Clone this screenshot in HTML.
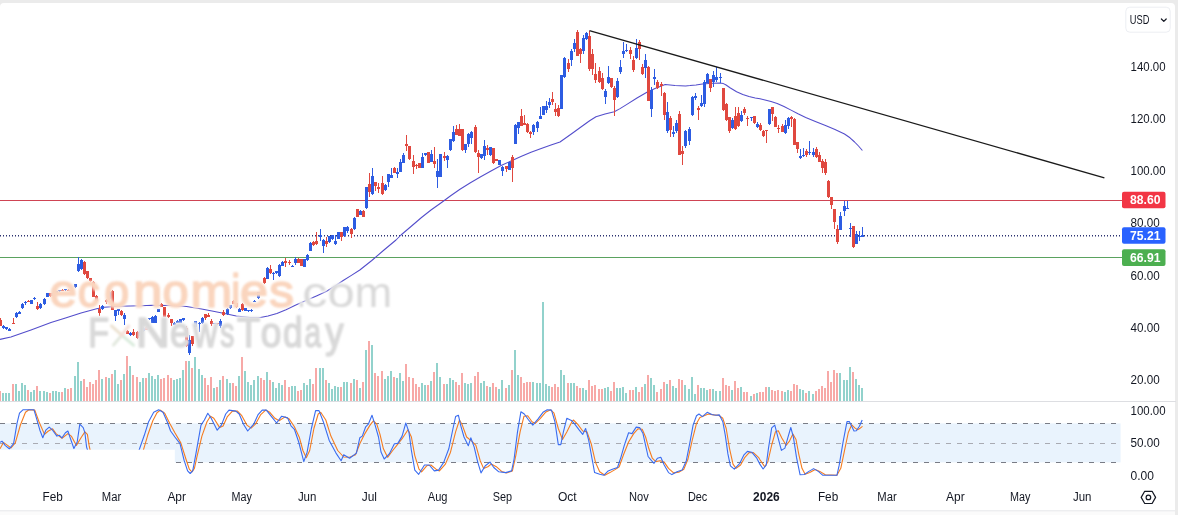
<!DOCTYPE html>
<html><head><meta charset="utf-8"><title>chart</title>
<style>html,body{margin:0;padding:0;background:#fff;}body{width:1178px;height:515px;overflow:hidden;font-family:"Liberation Sans",sans-serif;}svg{display:block}text{font-family:"Liberation Sans",sans-serif;}</style>
</head><body>
<svg width="1178" height="515" viewBox="0 0 1178 515">
<defs><filter id="bl" x="-5%" y="-20%" width="110%" height="140%"><feGaussianBlur stdDeviation="0.9"/></filter><filter id="bl2" x="-5%" y="-20%" width="110%" height="140%"><feGaussianBlur stdDeviation="1.6"/></filter></defs>
<rect x="0" y="0" width="1178" height="515" fill="#ebebeb"/>
<path d="M0 7 Q0 3 4 3 L1171 3 Q1175 3 1175 7 L1175 515 L0 515 Z" fill="#ffffff"/>
<rect x="0" y="511" width="1175" height="4" fill="#fbfbfb"/>
<rect x="0" y="510.3" width="1175" height="1" fill="#e6e7ea"/>
<rect x="0" y="401" width="1176" height="1" fill="#dddee2"/>
<rect x="0" y="423.4" width="1120.6" height="39" fill="#e9f3fd"/>
<g stroke="#797c86" stroke-width="1" stroke-dasharray="5 6" fill="none">
<path d="M0 423.5 H1117"/><path d="M0 462.5 H1117"/></g>
<path d="M0 443.5 H1117" stroke="#a9abb3" stroke-width="1" stroke-dasharray="5 6" fill="none"/>
<g>
<rect x="-1" y="391" width="2" height="10" fill="#f7a9a7"/>
<rect x="2" y="393" width="2" height="8" fill="#92d2cc"/>
<rect x="5" y="393" width="2" height="8" fill="#92d2cc"/>
<rect x="8" y="393" width="2" height="8" fill="#92d2cc"/>
<rect x="12" y="384" width="2" height="17" fill="#f7a9a7"/>
<rect x="15" y="384" width="2" height="17" fill="#92d2cc"/>
<rect x="18" y="391" width="2" height="10" fill="#92d2cc"/>
<rect x="21" y="383" width="2" height="18" fill="#92d2cc"/>
<rect x="24" y="385" width="2" height="16" fill="#92d2cc"/>
<rect x="27" y="390" width="2" height="11" fill="#f7a9a7"/>
<rect x="30" y="392" width="2" height="9" fill="#92d2cc"/>
<rect x="33" y="390" width="2" height="11" fill="#92d2cc"/>
<rect x="36" y="386" width="2" height="15" fill="#f7a9a7"/>
<rect x="39" y="391" width="2" height="10" fill="#92d2cc"/>
<rect x="43" y="391" width="2" height="10" fill="#92d2cc"/>
<rect x="46" y="392" width="2" height="9" fill="#92d2cc"/>
<rect x="49" y="393" width="2" height="8" fill="#f7a9a7"/>
<rect x="52" y="391" width="2" height="10" fill="#92d2cc"/>
<rect x="55" y="391" width="2" height="10" fill="#92d2cc"/>
<rect x="58" y="392" width="2" height="9" fill="#92d2cc"/>
<rect x="61" y="392" width="2" height="9" fill="#f7a9a7"/>
<rect x="64" y="388" width="2" height="13" fill="#92d2cc"/>
<rect x="67" y="389" width="2" height="12" fill="#f7a9a7"/>
<rect x="70" y="388" width="2" height="13" fill="#f7a9a7"/>
<rect x="74" y="376" width="2" height="25" fill="#92d2cc"/>
<rect x="77" y="362" width="2" height="39" fill="#92d2cc"/>
<rect x="80" y="381" width="2" height="20" fill="#92d2cc"/>
<rect x="83" y="379" width="2" height="22" fill="#f7a9a7"/>
<rect x="86" y="387" width="2" height="14" fill="#f7a9a7"/>
<rect x="89" y="382" width="2" height="19" fill="#f7a9a7"/>
<rect x="92" y="384" width="2" height="17" fill="#f7a9a7"/>
<rect x="95" y="380" width="2" height="21" fill="#f7a9a7"/>
<rect x="98" y="370" width="2" height="31" fill="#f7a9a7"/>
<rect x="101" y="379" width="2" height="22" fill="#92d2cc"/>
<rect x="105" y="377" width="2" height="24" fill="#f7a9a7"/>
<rect x="108" y="378" width="2" height="23" fill="#92d2cc"/>
<rect x="111" y="374" width="2" height="27" fill="#f7a9a7"/>
<rect x="114" y="370" width="2" height="31" fill="#92d2cc"/>
<rect x="117" y="384" width="2" height="17" fill="#92d2cc"/>
<rect x="120" y="380" width="2" height="21" fill="#f7a9a7"/>
<rect x="123" y="374" width="2" height="27" fill="#92d2cc"/>
<rect x="126" y="356" width="2" height="45" fill="#f7a9a7"/>
<rect x="129" y="366" width="2" height="35" fill="#92d2cc"/>
<rect x="132" y="375" width="2" height="26" fill="#f7a9a7"/>
<rect x="136" y="377" width="2" height="24" fill="#f7a9a7"/>
<rect x="139" y="382" width="2" height="19" fill="#92d2cc"/>
<rect x="142" y="378" width="2" height="23" fill="#92d2cc"/>
<rect x="145" y="378" width="2" height="23" fill="#f7a9a7"/>
<rect x="148" y="373" width="2" height="28" fill="#92d2cc"/>
<rect x="151" y="376" width="2" height="25" fill="#92d2cc"/>
<rect x="154" y="379" width="2" height="22" fill="#92d2cc"/>
<rect x="157" y="375" width="2" height="26" fill="#92d2cc"/>
<rect x="160" y="379" width="2" height="22" fill="#f7a9a7"/>
<rect x="163" y="378" width="2" height="23" fill="#f7a9a7"/>
<rect x="167" y="375" width="2" height="26" fill="#f7a9a7"/>
<rect x="170" y="378" width="2" height="23" fill="#f7a9a7"/>
<rect x="173" y="380" width="2" height="21" fill="#92d2cc"/>
<rect x="176" y="379" width="2" height="22" fill="#92d2cc"/>
<rect x="179" y="378" width="2" height="23" fill="#92d2cc"/>
<rect x="182" y="370" width="2" height="31" fill="#92d2cc"/>
<rect x="185" y="361" width="2" height="40" fill="#f7a9a7"/>
<rect x="188" y="361" width="2" height="40" fill="#92d2cc"/>
<rect x="191" y="368" width="2" height="33" fill="#f7a9a7"/>
<rect x="194" y="357" width="2" height="44" fill="#92d2cc"/>
<rect x="198" y="369" width="2" height="32" fill="#92d2cc"/>
<rect x="201" y="375" width="2" height="26" fill="#92d2cc"/>
<rect x="204" y="378" width="2" height="23" fill="#f7a9a7"/>
<rect x="207" y="385" width="2" height="16" fill="#f7a9a7"/>
<rect x="210" y="377" width="2" height="24" fill="#f7a9a7"/>
<rect x="213" y="388" width="2" height="13" fill="#92d2cc"/>
<rect x="216" y="387" width="2" height="14" fill="#f7a9a7"/>
<rect x="219" y="380" width="2" height="21" fill="#92d2cc"/>
<rect x="222" y="376" width="2" height="25" fill="#f7a9a7"/>
<rect x="226" y="379" width="2" height="22" fill="#92d2cc"/>
<rect x="229" y="383" width="2" height="18" fill="#92d2cc"/>
<rect x="232" y="383" width="2" height="18" fill="#f7a9a7"/>
<rect x="235" y="386" width="2" height="15" fill="#f7a9a7"/>
<rect x="238" y="376" width="2" height="25" fill="#92d2cc"/>
<rect x="241" y="357" width="2" height="44" fill="#f7a9a7"/>
<rect x="244" y="371" width="2" height="30" fill="#92d2cc"/>
<rect x="247" y="382" width="2" height="19" fill="#92d2cc"/>
<rect x="250" y="385" width="2" height="16" fill="#92d2cc"/>
<rect x="253" y="380" width="2" height="21" fill="#92d2cc"/>
<rect x="257" y="376" width="2" height="25" fill="#92d2cc"/>
<rect x="260" y="378" width="2" height="23" fill="#f7a9a7"/>
<rect x="263" y="380" width="2" height="21" fill="#f7a9a7"/>
<rect x="266" y="372" width="2" height="29" fill="#92d2cc"/>
<rect x="269" y="380" width="2" height="21" fill="#f7a9a7"/>
<rect x="272" y="382" width="2" height="19" fill="#92d2cc"/>
<rect x="275" y="388" width="2" height="13" fill="#92d2cc"/>
<rect x="278" y="383" width="2" height="18" fill="#92d2cc"/>
<rect x="281" y="385" width="2" height="16" fill="#92d2cc"/>
<rect x="284" y="380" width="2" height="21" fill="#f7a9a7"/>
<rect x="288" y="387" width="2" height="14" fill="#f7a9a7"/>
<rect x="291" y="386" width="2" height="15" fill="#92d2cc"/>
<rect x="294" y="386" width="2" height="15" fill="#92d2cc"/>
<rect x="297" y="391" width="2" height="10" fill="#f7a9a7"/>
<rect x="300" y="390" width="2" height="11" fill="#f7a9a7"/>
<rect x="303" y="383" width="2" height="18" fill="#92d2cc"/>
<rect x="306" y="385" width="2" height="16" fill="#92d2cc"/>
<rect x="309" y="379" width="2" height="22" fill="#92d2cc"/>
<rect x="312" y="384" width="2" height="17" fill="#f7a9a7"/>
<rect x="315" y="368" width="2" height="33" fill="#f7a9a7"/>
<rect x="319" y="368" width="2" height="33" fill="#92d2cc"/>
<rect x="322" y="368" width="2" height="33" fill="#92d2cc"/>
<rect x="325" y="380" width="2" height="21" fill="#f7a9a7"/>
<rect x="328" y="383" width="2" height="18" fill="#92d2cc"/>
<rect x="331" y="389" width="2" height="12" fill="#92d2cc"/>
<rect x="334" y="386" width="2" height="15" fill="#92d2cc"/>
<rect x="337" y="387" width="2" height="14" fill="#92d2cc"/>
<rect x="340" y="387" width="2" height="14" fill="#f7a9a7"/>
<rect x="343" y="382" width="2" height="19" fill="#92d2cc"/>
<rect x="346" y="382" width="2" height="19" fill="#92d2cc"/>
<rect x="350" y="383" width="2" height="18" fill="#f7a9a7"/>
<rect x="353" y="379" width="2" height="22" fill="#92d2cc"/>
<rect x="356" y="380" width="2" height="21" fill="#f7a9a7"/>
<rect x="359" y="388" width="2" height="13" fill="#92d2cc"/>
<rect x="362" y="382" width="2" height="19" fill="#f7a9a7"/>
<rect x="365" y="350" width="2" height="51" fill="#92d2cc"/>
<rect x="368" y="341" width="2" height="60" fill="#f7a9a7"/>
<rect x="371" y="345" width="2" height="56" fill="#92d2cc"/>
<rect x="374" y="373" width="2" height="28" fill="#f7a9a7"/>
<rect x="377" y="376" width="2" height="25" fill="#f7a9a7"/>
<rect x="381" y="371" width="2" height="30" fill="#f7a9a7"/>
<rect x="384" y="379" width="2" height="22" fill="#92d2cc"/>
<rect x="387" y="376" width="2" height="25" fill="#92d2cc"/>
<rect x="390" y="371" width="2" height="30" fill="#92d2cc"/>
<rect x="393" y="377" width="2" height="24" fill="#f7a9a7"/>
<rect x="396" y="378" width="2" height="23" fill="#92d2cc"/>
<rect x="399" y="373" width="2" height="28" fill="#92d2cc"/>
<rect x="402" y="381" width="2" height="20" fill="#92d2cc"/>
<rect x="405" y="364" width="2" height="37" fill="#f7a9a7"/>
<rect x="408" y="377" width="2" height="24" fill="#f7a9a7"/>
<rect x="412" y="378" width="2" height="23" fill="#f7a9a7"/>
<rect x="415" y="384" width="2" height="17" fill="#f7a9a7"/>
<rect x="418" y="387" width="2" height="14" fill="#f7a9a7"/>
<rect x="421" y="383" width="2" height="18" fill="#92d2cc"/>
<rect x="424" y="385" width="2" height="16" fill="#92d2cc"/>
<rect x="427" y="385" width="2" height="16" fill="#f7a9a7"/>
<rect x="430" y="381" width="2" height="20" fill="#92d2cc"/>
<rect x="433" y="372" width="2" height="29" fill="#f7a9a7"/>
<rect x="436" y="363" width="2" height="38" fill="#92d2cc"/>
<rect x="439" y="377" width="2" height="24" fill="#92d2cc"/>
<rect x="443" y="384" width="2" height="17" fill="#f7a9a7"/>
<rect x="446" y="384" width="2" height="17" fill="#92d2cc"/>
<rect x="449" y="378" width="2" height="23" fill="#92d2cc"/>
<rect x="452" y="380" width="2" height="21" fill="#92d2cc"/>
<rect x="455" y="382" width="2" height="19" fill="#f7a9a7"/>
<rect x="458" y="385" width="2" height="16" fill="#f7a9a7"/>
<rect x="461" y="373" width="2" height="28" fill="#f7a9a7"/>
<rect x="464" y="383" width="2" height="18" fill="#92d2cc"/>
<rect x="467" y="384" width="2" height="17" fill="#92d2cc"/>
<rect x="470" y="383" width="2" height="18" fill="#92d2cc"/>
<rect x="474" y="376" width="2" height="25" fill="#f7a9a7"/>
<rect x="477" y="372" width="2" height="29" fill="#f7a9a7"/>
<rect x="480" y="383" width="2" height="18" fill="#92d2cc"/>
<rect x="483" y="381" width="2" height="20" fill="#92d2cc"/>
<rect x="486" y="386" width="2" height="15" fill="#f7a9a7"/>
<rect x="489" y="387" width="2" height="14" fill="#92d2cc"/>
<rect x="492" y="383" width="2" height="18" fill="#f7a9a7"/>
<rect x="495" y="387" width="2" height="14" fill="#f7a9a7"/>
<rect x="498" y="389" width="2" height="12" fill="#92d2cc"/>
<rect x="501" y="380" width="2" height="21" fill="#92d2cc"/>
<rect x="505" y="388" width="2" height="13" fill="#f7a9a7"/>
<rect x="508" y="385" width="2" height="16" fill="#92d2cc"/>
<rect x="511" y="370" width="2" height="31" fill="#f7a9a7"/>
<rect x="514" y="350" width="2" height="51" fill="#92d2cc"/>
<rect x="517" y="375" width="2" height="26" fill="#92d2cc"/>
<rect x="520" y="377" width="2" height="24" fill="#f7a9a7"/>
<rect x="523" y="383" width="2" height="18" fill="#f7a9a7"/>
<rect x="526" y="382" width="2" height="19" fill="#f7a9a7"/>
<rect x="529" y="382" width="2" height="19" fill="#f7a9a7"/>
<rect x="532" y="382" width="2" height="19" fill="#92d2cc"/>
<rect x="536" y="383" width="2" height="18" fill="#92d2cc"/>
<rect x="539" y="383" width="2" height="18" fill="#92d2cc"/>
<rect x="542" y="302" width="2" height="99" fill="#92d2cc"/>
<rect x="545" y="384" width="2" height="17" fill="#92d2cc"/>
<rect x="548" y="386" width="2" height="15" fill="#92d2cc"/>
<rect x="551" y="387" width="2" height="14" fill="#f7a9a7"/>
<rect x="554" y="384" width="2" height="17" fill="#f7a9a7"/>
<rect x="557" y="387" width="2" height="14" fill="#f7a9a7"/>
<rect x="560" y="370" width="2" height="31" fill="#92d2cc"/>
<rect x="563" y="375" width="2" height="26" fill="#92d2cc"/>
<rect x="567" y="383" width="2" height="18" fill="#f7a9a7"/>
<rect x="570" y="383" width="2" height="18" fill="#92d2cc"/>
<rect x="573" y="383" width="2" height="18" fill="#92d2cc"/>
<rect x="576" y="386" width="2" height="15" fill="#f7a9a7"/>
<rect x="579" y="388" width="2" height="13" fill="#f7a9a7"/>
<rect x="582" y="388" width="2" height="13" fill="#92d2cc"/>
<rect x="585" y="390" width="2" height="11" fill="#92d2cc"/>
<rect x="588" y="380" width="2" height="21" fill="#f7a9a7"/>
<rect x="591" y="386" width="2" height="15" fill="#f7a9a7"/>
<rect x="594" y="385" width="2" height="16" fill="#f7a9a7"/>
<rect x="598" y="389" width="2" height="12" fill="#f7a9a7"/>
<rect x="601" y="389" width="2" height="12" fill="#f7a9a7"/>
<rect x="604" y="388" width="2" height="13" fill="#92d2cc"/>
<rect x="607" y="387" width="2" height="14" fill="#92d2cc"/>
<rect x="610" y="391" width="2" height="10" fill="#f7a9a7"/>
<rect x="613" y="382" width="2" height="19" fill="#f7a9a7"/>
<rect x="616" y="388" width="2" height="13" fill="#92d2cc"/>
<rect x="619" y="388" width="2" height="13" fill="#92d2cc"/>
<rect x="622" y="387" width="2" height="14" fill="#92d2cc"/>
<rect x="625" y="393" width="2" height="8" fill="#92d2cc"/>
<rect x="629" y="390" width="2" height="11" fill="#f7a9a7"/>
<rect x="632" y="390" width="2" height="11" fill="#f7a9a7"/>
<rect x="635" y="387" width="2" height="14" fill="#92d2cc"/>
<rect x="638" y="392" width="2" height="9" fill="#f7a9a7"/>
<rect x="641" y="387" width="2" height="14" fill="#f7a9a7"/>
<rect x="644" y="384" width="2" height="17" fill="#92d2cc"/>
<rect x="647" y="375" width="2" height="26" fill="#f7a9a7"/>
<rect x="650" y="378" width="2" height="23" fill="#92d2cc"/>
<rect x="653" y="385" width="2" height="16" fill="#92d2cc"/>
<rect x="656" y="392" width="2" height="9" fill="#f7a9a7"/>
<rect x="660" y="389" width="2" height="12" fill="#f7a9a7"/>
<rect x="663" y="382" width="2" height="19" fill="#f7a9a7"/>
<rect x="666" y="384" width="2" height="17" fill="#92d2cc"/>
<rect x="669" y="380" width="2" height="21" fill="#f7a9a7"/>
<rect x="672" y="386" width="2" height="15" fill="#92d2cc"/>
<rect x="675" y="388" width="2" height="13" fill="#92d2cc"/>
<rect x="678" y="379" width="2" height="22" fill="#f7a9a7"/>
<rect x="681" y="380" width="2" height="21" fill="#f7a9a7"/>
<rect x="684" y="385" width="2" height="16" fill="#92d2cc"/>
<rect x="688" y="389" width="2" height="12" fill="#92d2cc"/>
<rect x="691" y="377" width="2" height="24" fill="#92d2cc"/>
<rect x="694" y="394" width="2" height="7" fill="#92d2cc"/>
<rect x="697" y="385" width="2" height="16" fill="#f7a9a7"/>
<rect x="700" y="388" width="2" height="13" fill="#92d2cc"/>
<rect x="703" y="388" width="2" height="13" fill="#92d2cc"/>
<rect x="706" y="390" width="2" height="11" fill="#92d2cc"/>
<rect x="709" y="389" width="2" height="12" fill="#f7a9a7"/>
<rect x="712" y="389" width="2" height="12" fill="#92d2cc"/>
<rect x="715" y="391" width="2" height="10" fill="#92d2cc"/>
<rect x="719" y="391" width="2" height="10" fill="#92d2cc"/>
<rect x="722" y="378" width="2" height="23" fill="#f7a9a7"/>
<rect x="725" y="385" width="2" height="16" fill="#f7a9a7"/>
<rect x="728" y="386" width="2" height="15" fill="#f7a9a7"/>
<rect x="731" y="390" width="2" height="11" fill="#92d2cc"/>
<rect x="734" y="381" width="2" height="20" fill="#f7a9a7"/>
<rect x="737" y="388" width="2" height="13" fill="#f7a9a7"/>
<rect x="740" y="387" width="2" height="14" fill="#92d2cc"/>
<rect x="743" y="392" width="2" height="9" fill="#f7a9a7"/>
<rect x="746" y="392" width="2" height="9" fill="#f7a9a7"/>
<rect x="750" y="396" width="2" height="5" fill="#92d2cc"/>
<rect x="753" y="394" width="2" height="7" fill="#f7a9a7"/>
<rect x="756" y="393" width="2" height="8" fill="#92d2cc"/>
<rect x="759" y="392" width="2" height="9" fill="#f7a9a7"/>
<rect x="762" y="392" width="2" height="9" fill="#f7a9a7"/>
<rect x="765" y="387" width="2" height="14" fill="#f7a9a7"/>
<rect x="768" y="387" width="2" height="14" fill="#92d2cc"/>
<rect x="771" y="390" width="2" height="11" fill="#f7a9a7"/>
<rect x="774" y="391" width="2" height="10" fill="#f7a9a7"/>
<rect x="777" y="390" width="2" height="11" fill="#f7a9a7"/>
<rect x="781" y="391" width="2" height="10" fill="#f7a9a7"/>
<rect x="784" y="392" width="2" height="9" fill="#92d2cc"/>
<rect x="787" y="390" width="2" height="11" fill="#92d2cc"/>
<rect x="790" y="391" width="2" height="10" fill="#f7a9a7"/>
<rect x="793" y="384" width="2" height="17" fill="#f7a9a7"/>
<rect x="796" y="385" width="2" height="16" fill="#f7a9a7"/>
<rect x="799" y="389" width="2" height="12" fill="#92d2cc"/>
<rect x="802" y="390" width="2" height="11" fill="#92d2cc"/>
<rect x="805" y="393" width="2" height="8" fill="#f7a9a7"/>
<rect x="808" y="391" width="2" height="10" fill="#92d2cc"/>
<rect x="812" y="394" width="2" height="7" fill="#92d2cc"/>
<rect x="815" y="391" width="2" height="10" fill="#f7a9a7"/>
<rect x="818" y="389" width="2" height="12" fill="#f7a9a7"/>
<rect x="821" y="386" width="2" height="15" fill="#f7a9a7"/>
<rect x="824" y="388" width="2" height="13" fill="#f7a9a7"/>
<rect x="827" y="371" width="2" height="30" fill="#f7a9a7"/>
<rect x="830" y="382" width="2" height="19" fill="#f7a9a7"/>
<rect x="833" y="370" width="2" height="31" fill="#f7a9a7"/>
<rect x="836" y="373" width="2" height="28" fill="#f7a9a7"/>
<rect x="839" y="373" width="2" height="28" fill="#92d2cc"/>
<rect x="843" y="380" width="2" height="21" fill="#92d2cc"/>
<rect x="846" y="380" width="2" height="21" fill="#92d2cc"/>
<rect x="849" y="367" width="2" height="34" fill="#92d2cc"/>
<rect x="852" y="372" width="2" height="29" fill="#f7a9a7"/>
<rect x="855" y="379" width="2" height="22" fill="#92d2cc"/>
<rect x="858" y="385" width="2" height="16" fill="#92d2cc"/>
<rect x="861" y="388" width="2" height="13" fill="#92d2cc"/>
</g>
<rect x="0" y="200" width="1122" height="1" fill="#cf4453"/>
<rect x="0" y="257" width="1122" height="1" fill="#5aa25f"/>
<path d="M0 235.8 H1122" stroke="#2c3270" stroke-width="1.4" stroke-dasharray="1 2" fill="none"/>
<polyline points="0.0,339.4 10.9,337.0 31.0,330.0 51.0,322.6 65.5,318.0 81.0,312.9 96.6,308.8 104.3,307.2 118.0,306.3 130.2,306.0 141.0,305.7 152.6,305.3 170.0,305.6 186.6,306.4 201.6,309.0 212.0,311.0 223.3,313.2 236.3,315.9 250.0,317.6 260.3,317.4 268.0,316.0 276.9,313.5 286.0,309.8 295.3,305.2 308.2,299.6 317.0,295.7 326.6,291.2 335.0,286.0 343.2,280.5 351.0,275.6 359.8,270.0 371.8,260.5 384.0,250.0 396.0,240.0 401.0,235.0 411.0,226.5 421.5,217.5 431.0,210.0 441.9,202.2 451.0,195.5 460.0,189.3 470.0,183.0 480.7,176.7 491.0,171.0 501.1,165.5 511.0,161.0 521.5,156.3 531.0,152.3 541.9,148.2 551.0,145.0 560.0,142.0 572.0,133.5 583.7,125.0 590.0,120.5 596.0,116.8 605.0,114.0 614.3,111.7 620.0,108.6 626.5,104.6 637.0,98.0 646.9,92.3 655.0,88.5 665.2,84.6 675.0,85.4 685.6,86.0 690.0,85.6 696.0,84.9 702.4,84.0 709.0,83.5 713.3,83.2 719.5,83.0 723.4,83.6 725.7,84.8 730.4,88.0 736.6,91.8 742.8,94.5 749.0,96.5 755.2,97.9 760.0,98.8 765.0,100.0 771.0,101.5 777.2,103.4 784.0,106.5 791.5,110.4 798.0,113.8 805.7,117.5 816.0,121.8 826.1,125.8 835.0,129.5 844.5,134.0 850.0,137.8 854.6,142.0 858.5,146.0 862.4,150.5" fill="none" stroke="#534dcb" stroke-width="1.05" stroke-linejoin="round"/>
<g shape-rendering="crispEdges">
<rect x="0" y="318.0" width="1" height="8.0" fill="#e0483f"/>
<rect x="-1" y="319.5" width="3" height="6.0" fill="#e0483f"/>
<rect x="3" y="325.0" width="1" height="3.5" fill="#2d5ce2"/>
<rect x="2" y="325.5" width="3" height="2.0" fill="#2d5ce2"/>
<rect x="6" y="326.5" width="1" height="3.5" fill="#2d5ce2"/>
<rect x="5" y="327.0" width="3" height="2.0" fill="#2d5ce2"/>
<rect x="9" y="328.0" width="1" height="3.0" fill="#2d5ce2"/>
<rect x="8" y="328.5" width="3" height="2.0" fill="#2d5ce2"/>
<rect x="13" y="318.0" width="1" height="5.5" fill="#e0483f"/>
<rect x="12" y="322.5" width="3" height="1.0" fill="#e0483f"/>
<rect x="16" y="312.0" width="1" height="5.5" fill="#2d5ce2"/>
<rect x="15" y="312.5" width="3" height="4.5" fill="#2d5ce2"/>
<rect x="19" y="310.5" width="1" height="3.5" fill="#2d5ce2"/>
<rect x="18" y="311.5" width="3" height="2.0" fill="#2d5ce2"/>
<rect x="22" y="303.0" width="1" height="5.5" fill="#2d5ce2"/>
<rect x="21" y="304.0" width="3" height="3.5" fill="#2d5ce2"/>
<rect x="25" y="300.5" width="1" height="4.5" fill="#2d5ce2"/>
<rect x="24" y="301.5" width="3" height="1.5" fill="#2d5ce2"/>
<rect x="28" y="299.5" width="1" height="2.5" fill="#e0483f"/>
<rect x="27" y="300.5" width="3" height="1.0" fill="#e0483f"/>
<rect x="31" y="299.5" width="1" height="4.5" fill="#2d5ce2"/>
<rect x="30" y="300.0" width="3" height="3.5" fill="#2d5ce2"/>
<rect x="34" y="296.5" width="1" height="3.5" fill="#2d5ce2"/>
<rect x="33" y="297.5" width="3" height="1.5" fill="#2d5ce2"/>
<rect x="37" y="301.5" width="1" height="8.0" fill="#e0483f"/>
<rect x="36" y="306.0" width="3" height="2.5" fill="#e0483f"/>
<rect x="40" y="303.0" width="1" height="5.5" fill="#2d5ce2"/>
<rect x="39" y="303.5" width="3" height="4.5" fill="#2d5ce2"/>
<rect x="44" y="298.0" width="1" height="6.5" fill="#2d5ce2"/>
<rect x="43" y="298.5" width="3" height="5.5" fill="#2d5ce2"/>
<rect x="47" y="292.5" width="1" height="4.5" fill="#2d5ce2"/>
<rect x="46" y="293.0" width="3" height="3.5" fill="#2d5ce2"/>
<rect x="50" y="292.5" width="1" height="4.0" fill="#e0483f"/>
<rect x="49" y="292.5" width="3" height="3.5" fill="#e0483f"/>
<rect x="53" y="292.5" width="1" height="4.0" fill="#2d5ce2"/>
<rect x="52" y="293.0" width="3" height="3.0" fill="#2d5ce2"/>
<rect x="56" y="290.5" width="1" height="3.0" fill="#2d5ce2"/>
<rect x="55" y="291.0" width="3" height="2.0" fill="#2d5ce2"/>
<rect x="59" y="289.5" width="1" height="2.0" fill="#2d5ce2"/>
<rect x="58" y="289.8" width="3" height="1.2" fill="#2d5ce2"/>
<rect x="62" y="289.0" width="1" height="2.0" fill="#e0483f"/>
<rect x="61" y="289.5" width="3" height="1.0" fill="#e0483f"/>
<rect x="65" y="289.0" width="1" height="1.5" fill="#2d5ce2"/>
<rect x="64" y="289.3" width="3" height="1.0" fill="#2d5ce2"/>
<rect x="68" y="289.0" width="1" height="2.0" fill="#e0483f"/>
<rect x="67" y="289.5" width="3" height="1.0" fill="#e0483f"/>
<rect x="71" y="289.5" width="1" height="2.0" fill="#e0483f"/>
<rect x="70" y="290.0" width="3" height="1.0" fill="#e0483f"/>
<rect x="75" y="283.5" width="1" height="4.0" fill="#2d5ce2"/>
<rect x="74" y="284.0" width="3" height="3.0" fill="#2d5ce2"/>
<rect x="78" y="257.0" width="1" height="14.5" fill="#2d5ce2"/>
<rect x="77" y="264.0" width="3" height="7.0" fill="#2d5ce2"/>
<rect x="81" y="259.0" width="1" height="11.0" fill="#2d5ce2"/>
<rect x="80" y="260.0" width="3" height="9.4" fill="#2d5ce2"/>
<rect x="84" y="261.0" width="1" height="13.5" fill="#e0483f"/>
<rect x="83" y="261.6" width="3" height="12.4" fill="#e0483f"/>
<rect x="87" y="270.5" width="1" height="8.0" fill="#e0483f"/>
<rect x="86" y="271.0" width="3" height="7.0" fill="#e0483f"/>
<rect x="90" y="277.5" width="1" height="4.0" fill="#e0483f"/>
<rect x="89" y="278.0" width="3" height="3.0" fill="#e0483f"/>
<rect x="93" y="280.7" width="1" height="16.3" fill="#e0483f"/>
<rect x="92" y="281.5" width="3" height="15.0" fill="#e0483f"/>
<rect x="96" y="295.0" width="1" height="6.5" fill="#e0483f"/>
<rect x="95" y="295.5" width="3" height="5.5" fill="#e0483f"/>
<rect x="99" y="305.0" width="1" height="10.7" fill="#e0483f"/>
<rect x="98" y="309.3" width="3" height="4.0" fill="#e0483f"/>
<rect x="102" y="305.0" width="1" height="4.5" fill="#2d5ce2"/>
<rect x="101" y="306.0" width="3" height="3.0" fill="#2d5ce2"/>
<rect x="106" y="299.0" width="1" height="5.0" fill="#e0483f"/>
<rect x="105" y="300.0" width="3" height="2.0" fill="#e0483f"/>
<rect x="109" y="291.0" width="1" height="9.0" fill="#2d5ce2"/>
<rect x="108" y="292.0" width="3" height="7.0" fill="#2d5ce2"/>
<rect x="112" y="290.0" width="1" height="20.0" fill="#e0483f"/>
<rect x="111" y="291.0" width="3" height="18.5" fill="#e0483f"/>
<rect x="115" y="310.0" width="1" height="11.3" fill="#2d5ce2"/>
<rect x="114" y="310.2" width="3" height="5.5" fill="#2d5ce2"/>
<rect x="118" y="309.0" width="1" height="5.5" fill="#2d5ce2"/>
<rect x="117" y="309.3" width="3" height="1.7" fill="#2d5ce2"/>
<rect x="121" y="310.0" width="1" height="5.5" fill="#e0483f"/>
<rect x="120" y="310.5" width="3" height="4.5" fill="#e0483f"/>
<rect x="124" y="313.4" width="1" height="11.2" fill="#2d5ce2"/>
<rect x="123" y="315.0" width="3" height="4.0" fill="#2d5ce2"/>
<rect x="127" y="330.0" width="1" height="4.0" fill="#e0483f"/>
<rect x="126" y="330.8" width="3" height="2.7" fill="#e0483f"/>
<rect x="130" y="332.0" width="1" height="3.5" fill="#2d5ce2"/>
<rect x="129" y="332.5" width="3" height="2.5" fill="#2d5ce2"/>
<rect x="133" y="328.8" width="1" height="6.7" fill="#e0483f"/>
<rect x="132" y="332.0" width="3" height="3.0" fill="#e0483f"/>
<rect x="137" y="331.0" width="1" height="8.0" fill="#e0483f"/>
<rect x="136" y="331.5" width="3" height="6.8" fill="#e0483f"/>
<rect x="140" y="330.5" width="1" height="6.5" fill="#2d5ce2"/>
<rect x="139" y="331.0" width="3" height="5.0" fill="#2d5ce2"/>
<rect x="143" y="327.0" width="1" height="5.0" fill="#2d5ce2"/>
<rect x="142" y="328.0" width="3" height="3.0" fill="#2d5ce2"/>
<rect x="146" y="326.4" width="1" height="3.6" fill="#e0483f"/>
<rect x="145" y="327.0" width="3" height="2.5" fill="#e0483f"/>
<rect x="149" y="317.5" width="1" height="2.0" fill="#2d5ce2"/>
<rect x="148" y="318.0" width="3" height="1.0" fill="#2d5ce2"/>
<rect x="152" y="316.0" width="1" height="7.0" fill="#2d5ce2"/>
<rect x="151" y="316.5" width="3" height="6.1" fill="#2d5ce2"/>
<rect x="155" y="315.0" width="1" height="8.0" fill="#2d5ce2"/>
<rect x="154" y="315.6" width="3" height="7.0" fill="#2d5ce2"/>
<rect x="158" y="308.5" width="1" height="3.8" fill="#2d5ce2"/>
<rect x="157" y="309.0" width="3" height="2.8" fill="#2d5ce2"/>
<rect x="161" y="303.0" width="1" height="4.0" fill="#e0483f"/>
<rect x="160" y="304.0" width="3" height="2.5" fill="#e0483f"/>
<rect x="164" y="306.5" width="1" height="10.5" fill="#e0483f"/>
<rect x="163" y="307.0" width="3" height="9.5" fill="#e0483f"/>
<rect x="168" y="313.0" width="1" height="4.5" fill="#e0483f"/>
<rect x="167" y="315.0" width="3" height="2.0" fill="#e0483f"/>
<rect x="171" y="318.5" width="1" height="7.5" fill="#e0483f"/>
<rect x="170" y="319.2" width="3" height="4.1" fill="#e0483f"/>
<rect x="174" y="322.0" width="1" height="3.0" fill="#2d5ce2"/>
<rect x="173" y="322.6" width="3" height="2.1" fill="#2d5ce2"/>
<rect x="177" y="320.0" width="1" height="3.0" fill="#2d5ce2"/>
<rect x="176" y="320.6" width="3" height="2.0" fill="#2d5ce2"/>
<rect x="180" y="318.7" width="1" height="4.3" fill="#2d5ce2"/>
<rect x="179" y="319.2" width="3" height="3.4" fill="#2d5ce2"/>
<rect x="183" y="317.5" width="1" height="3.5" fill="#2d5ce2"/>
<rect x="182" y="318.0" width="3" height="2.0" fill="#2d5ce2"/>
<rect x="186" y="326.0" width="1" height="21.0" fill="#e0483f"/>
<rect x="185" y="328.0" width="3" height="18.0" fill="#e0483f"/>
<rect x="189" y="334.9" width="1" height="19.7" fill="#2d5ce2"/>
<rect x="188" y="339.6" width="3" height="12.9" fill="#2d5ce2"/>
<rect x="192" y="335.5" width="1" height="10.0" fill="#e0483f"/>
<rect x="191" y="336.2" width="3" height="7.5" fill="#e0483f"/>
<rect x="195" y="320.5" width="1" height="6.7" fill="#2d5ce2"/>
<rect x="194" y="321.3" width="3" height="5.4" fill="#2d5ce2"/>
<rect x="199" y="322.0" width="1" height="10.0" fill="#2d5ce2"/>
<rect x="198" y="322.6" width="3" height="1.4" fill="#2d5ce2"/>
<rect x="202" y="317.4" width="1" height="6.4" fill="#2d5ce2"/>
<rect x="201" y="317.9" width="3" height="5.4" fill="#2d5ce2"/>
<rect x="205" y="313.7" width="1" height="6.3" fill="#e0483f"/>
<rect x="204" y="314.2" width="3" height="3.7" fill="#e0483f"/>
<rect x="208" y="313.0" width="1" height="4.2" fill="#e0483f"/>
<rect x="207" y="314.5" width="3" height="2.0" fill="#e0483f"/>
<rect x="211" y="319.2" width="1" height="6.8" fill="#e0483f"/>
<rect x="210" y="321.0" width="3" height="3.0" fill="#e0483f"/>
<rect x="214" y="322.5" width="1" height="1.8" fill="#2d5ce2"/>
<rect x="213" y="323.0" width="3" height="1.0" fill="#2d5ce2"/>
<rect x="217" y="322.5" width="1" height="2.0" fill="#e0483f"/>
<rect x="216" y="323.0" width="3" height="1.0" fill="#e0483f"/>
<rect x="220" y="319.0" width="1" height="8.7" fill="#2d5ce2"/>
<rect x="219" y="321.0" width="3" height="4.5" fill="#2d5ce2"/>
<rect x="223" y="309.5" width="1" height="6.3" fill="#e0483f"/>
<rect x="222" y="311.7" width="3" height="3.6" fill="#e0483f"/>
<rect x="227" y="308.3" width="1" height="6.2" fill="#2d5ce2"/>
<rect x="226" y="308.8" width="3" height="5.2" fill="#2d5ce2"/>
<rect x="230" y="304.5" width="1" height="4.0" fill="#2d5ce2"/>
<rect x="229" y="305.0" width="3" height="3.0" fill="#2d5ce2"/>
<rect x="233" y="300.0" width="1" height="4.4" fill="#e0483f"/>
<rect x="232" y="301.0" width="3" height="2.5" fill="#e0483f"/>
<rect x="236" y="302.5" width="1" height="5.0" fill="#e0483f"/>
<rect x="235" y="303.0" width="3" height="4.0" fill="#e0483f"/>
<rect x="239" y="308.3" width="1" height="3.9" fill="#2d5ce2"/>
<rect x="238" y="308.8" width="3" height="2.9" fill="#2d5ce2"/>
<rect x="242" y="303.0" width="1" height="7.5" fill="#e0483f"/>
<rect x="241" y="304.0" width="3" height="6.0" fill="#e0483f"/>
<rect x="245" y="308.0" width="1" height="3.0" fill="#2d5ce2"/>
<rect x="244" y="308.4" width="3" height="2.1" fill="#2d5ce2"/>
<rect x="248" y="309.5" width="1" height="2.9" fill="#2d5ce2"/>
<rect x="247" y="310.0" width="3" height="1.0" fill="#2d5ce2"/>
<rect x="251" y="309.3" width="1" height="2.2" fill="#2d5ce2"/>
<rect x="250" y="309.5" width="3" height="1.0" fill="#2d5ce2"/>
<rect x="254" y="300.0" width="1" height="2.0" fill="#2d5ce2"/>
<rect x="253" y="300.5" width="3" height="1.0" fill="#2d5ce2"/>
<rect x="258" y="291.5" width="1" height="7.0" fill="#2d5ce2"/>
<rect x="257" y="292.0" width="3" height="6.0" fill="#2d5ce2"/>
<rect x="261" y="285.5" width="1" height="3.5" fill="#e0483f"/>
<rect x="260" y="286.0" width="3" height="2.0" fill="#e0483f"/>
<rect x="264" y="277.0" width="1" height="6.5" fill="#e0483f"/>
<rect x="263" y="277.5" width="3" height="5.5" fill="#e0483f"/>
<rect x="267" y="266.5" width="1" height="12.5" fill="#2d5ce2"/>
<rect x="266" y="268.3" width="3" height="10.2" fill="#2d5ce2"/>
<rect x="270" y="265.2" width="1" height="9.2" fill="#e0483f"/>
<rect x="269" y="268.9" width="3" height="3.7" fill="#e0483f"/>
<rect x="273" y="272.0" width="1" height="8.3" fill="#2d5ce2"/>
<rect x="272" y="272.6" width="3" height="1.2" fill="#2d5ce2"/>
<rect x="276" y="270.5" width="1" height="3.3" fill="#2d5ce2"/>
<rect x="275" y="271.0" width="3" height="2.3" fill="#2d5ce2"/>
<rect x="279" y="264.0" width="1" height="12.7" fill="#2d5ce2"/>
<rect x="278" y="264.6" width="3" height="11.6" fill="#2d5ce2"/>
<rect x="282" y="261.4" width="1" height="4.6" fill="#2d5ce2"/>
<rect x="281" y="261.9" width="3" height="3.6" fill="#2d5ce2"/>
<rect x="285" y="258.2" width="1" height="8.3" fill="#e0483f"/>
<rect x="284" y="261.0" width="3" height="2.0" fill="#e0483f"/>
<rect x="289" y="260.4" width="1" height="4.2" fill="#e0483f"/>
<rect x="288" y="262.0" width="3" height="1.0" fill="#e0483f"/>
<rect x="292" y="264.6" width="1" height="2.8" fill="#2d5ce2"/>
<rect x="291" y="265.5" width="3" height="1.0" fill="#2d5ce2"/>
<rect x="295" y="257.3" width="1" height="7.3" fill="#2d5ce2"/>
<rect x="294" y="258.5" width="3" height="4.3" fill="#2d5ce2"/>
<rect x="298" y="258.0" width="1" height="5.3" fill="#e0483f"/>
<rect x="297" y="258.5" width="3" height="4.3" fill="#e0483f"/>
<rect x="301" y="258.5" width="1" height="7.5" fill="#e0483f"/>
<rect x="300" y="259.0" width="3" height="6.5" fill="#e0483f"/>
<rect x="304" y="258.5" width="1" height="8.5" fill="#2d5ce2"/>
<rect x="303" y="259.0" width="3" height="7.5" fill="#2d5ce2"/>
<rect x="307" y="254.0" width="1" height="6.5" fill="#2d5ce2"/>
<rect x="306" y="254.5" width="3" height="5.5" fill="#2d5ce2"/>
<rect x="310" y="242.0" width="1" height="9.3" fill="#2d5ce2"/>
<rect x="309" y="243.4" width="3" height="7.4" fill="#2d5ce2"/>
<rect x="313" y="241.0" width="1" height="4.8" fill="#e0483f"/>
<rect x="312" y="241.6" width="3" height="3.7" fill="#e0483f"/>
<rect x="316" y="231.5" width="1" height="13.5" fill="#e0483f"/>
<rect x="315" y="240.7" width="3" height="3.7" fill="#e0483f"/>
<rect x="320" y="229.0" width="1" height="11.7" fill="#2d5ce2"/>
<rect x="319" y="235.0" width="3" height="1.5" fill="#2d5ce2"/>
<rect x="323" y="239.2" width="1" height="13.4" fill="#2d5ce2"/>
<rect x="322" y="239.7" width="3" height="6.5" fill="#2d5ce2"/>
<rect x="326" y="237.0" width="1" height="9.8" fill="#e0483f"/>
<rect x="325" y="241.2" width="3" height="3.2" fill="#e0483f"/>
<rect x="329" y="236.0" width="1" height="6.5" fill="#2d5ce2"/>
<rect x="328" y="236.4" width="3" height="5.6" fill="#2d5ce2"/>
<rect x="332" y="234.6" width="1" height="5.4" fill="#2d5ce2"/>
<rect x="331" y="235.1" width="3" height="4.3" fill="#2d5ce2"/>
<rect x="335" y="235.1" width="1" height="9.9" fill="#2d5ce2"/>
<rect x="334" y="240.7" width="3" height="3.7" fill="#2d5ce2"/>
<rect x="338" y="231.5" width="1" height="7.8" fill="#2d5ce2"/>
<rect x="337" y="232.0" width="3" height="6.8" fill="#2d5ce2"/>
<rect x="341" y="232.0" width="1" height="9.2" fill="#e0483f"/>
<rect x="340" y="232.4" width="3" height="4.6" fill="#e0483f"/>
<rect x="344" y="226.7" width="1" height="9.8" fill="#2d5ce2"/>
<rect x="343" y="227.2" width="3" height="8.8" fill="#2d5ce2"/>
<rect x="347" y="226.0" width="1" height="7.3" fill="#2d5ce2"/>
<rect x="346" y="227.0" width="3" height="4.0" fill="#2d5ce2"/>
<rect x="351" y="228.0" width="1" height="9.5" fill="#e0483f"/>
<rect x="350" y="228.5" width="3" height="5.0" fill="#e0483f"/>
<rect x="354" y="217.0" width="1" height="12.5" fill="#2d5ce2"/>
<rect x="353" y="217.5" width="3" height="11.5" fill="#2d5ce2"/>
<rect x="357" y="209.0" width="1" height="8.0" fill="#e0483f"/>
<rect x="356" y="209.4" width="3" height="7.1" fill="#e0483f"/>
<rect x="360" y="210.3" width="1" height="5.1" fill="#2d5ce2"/>
<rect x="359" y="210.8" width="3" height="4.1" fill="#2d5ce2"/>
<rect x="363" y="210.3" width="1" height="6.7" fill="#e0483f"/>
<rect x="362" y="210.8" width="3" height="5.7" fill="#e0483f"/>
<rect x="366" y="186.5" width="1" height="22.3" fill="#2d5ce2"/>
<rect x="365" y="187.0" width="3" height="21.3" fill="#2d5ce2"/>
<rect x="369" y="172.7" width="1" height="24.3" fill="#e0483f"/>
<rect x="368" y="183.9" width="3" height="8.1" fill="#e0483f"/>
<rect x="372" y="167.6" width="1" height="26.9" fill="#2d5ce2"/>
<rect x="371" y="175.7" width="3" height="18.3" fill="#2d5ce2"/>
<rect x="375" y="181.8" width="1" height="9.2" fill="#e0483f"/>
<rect x="374" y="182.3" width="3" height="3.7" fill="#e0483f"/>
<rect x="378" y="183.0" width="1" height="10.0" fill="#e0483f"/>
<rect x="377" y="187.0" width="3" height="1.5" fill="#e0483f"/>
<rect x="382" y="175.7" width="1" height="18.8" fill="#e0483f"/>
<rect x="381" y="182.9" width="3" height="11.1" fill="#e0483f"/>
<rect x="385" y="184.4" width="1" height="6.1" fill="#2d5ce2"/>
<rect x="384" y="184.9" width="3" height="5.1" fill="#2d5ce2"/>
<rect x="388" y="173.5" width="1" height="13.5" fill="#2d5ce2"/>
<rect x="387" y="174.0" width="3" height="7.9" fill="#2d5ce2"/>
<rect x="391" y="167.6" width="1" height="10.7" fill="#2d5ce2"/>
<rect x="390" y="174.7" width="3" height="3.1" fill="#2d5ce2"/>
<rect x="394" y="167.0" width="1" height="6.2" fill="#e0483f"/>
<rect x="393" y="167.6" width="3" height="5.1" fill="#e0483f"/>
<rect x="397" y="167.6" width="1" height="10.2" fill="#2d5ce2"/>
<rect x="396" y="171.7" width="3" height="2.0" fill="#2d5ce2"/>
<rect x="400" y="159.0" width="1" height="13.2" fill="#2d5ce2"/>
<rect x="399" y="161.5" width="3" height="10.2" fill="#2d5ce2"/>
<rect x="403" y="153.0" width="1" height="10.0" fill="#2d5ce2"/>
<rect x="402" y="155.0" width="3" height="7.5" fill="#2d5ce2"/>
<rect x="406" y="135.0" width="1" height="16.3" fill="#e0483f"/>
<rect x="405" y="144.0" width="3" height="2.0" fill="#e0483f"/>
<rect x="409" y="145.7" width="1" height="14.3" fill="#e0483f"/>
<rect x="408" y="146.2" width="3" height="13.2" fill="#e0483f"/>
<rect x="413" y="155.0" width="1" height="18.7" fill="#e0483f"/>
<rect x="412" y="160.5" width="3" height="6.7" fill="#e0483f"/>
<rect x="416" y="163.5" width="1" height="5.1" fill="#e0483f"/>
<rect x="415" y="165.0" width="3" height="1.0" fill="#e0483f"/>
<rect x="419" y="162.6" width="1" height="5.5" fill="#e0483f"/>
<rect x="418" y="163.1" width="3" height="4.5" fill="#e0483f"/>
<rect x="422" y="153.3" width="1" height="14.8" fill="#2d5ce2"/>
<rect x="421" y="157.0" width="3" height="10.6" fill="#2d5ce2"/>
<rect x="425" y="152.5" width="1" height="3.5" fill="#2d5ce2"/>
<rect x="424" y="153.0" width="3" height="2.4" fill="#2d5ce2"/>
<rect x="428" y="151.8" width="1" height="11.2" fill="#e0483f"/>
<rect x="427" y="152.3" width="3" height="10.2" fill="#e0483f"/>
<rect x="431" y="150.3" width="1" height="11.7" fill="#2d5ce2"/>
<rect x="430" y="154.4" width="3" height="7.1" fill="#2d5ce2"/>
<rect x="434" y="147.2" width="1" height="20.4" fill="#e0483f"/>
<rect x="433" y="160.5" width="3" height="3.0" fill="#e0483f"/>
<rect x="437" y="159.4" width="1" height="28.2" fill="#2d5ce2"/>
<rect x="436" y="171.3" width="3" height="6.1" fill="#2d5ce2"/>
<rect x="440" y="153.5" width="1" height="23.8" fill="#2d5ce2"/>
<rect x="439" y="154.0" width="3" height="22.8" fill="#2d5ce2"/>
<rect x="444" y="152.2" width="1" height="9.2" fill="#e0483f"/>
<rect x="443" y="156.3" width="3" height="1.7" fill="#e0483f"/>
<rect x="447" y="155.4" width="1" height="12.1" fill="#2d5ce2"/>
<rect x="446" y="155.9" width="3" height="4.1" fill="#2d5ce2"/>
<rect x="450" y="138.5" width="1" height="12.2" fill="#2d5ce2"/>
<rect x="449" y="139.0" width="3" height="11.2" fill="#2d5ce2"/>
<rect x="453" y="125.7" width="1" height="15.8" fill="#2d5ce2"/>
<rect x="452" y="132.3" width="3" height="8.7" fill="#2d5ce2"/>
<rect x="456" y="124.7" width="1" height="10.7" fill="#e0483f"/>
<rect x="455" y="128.8" width="3" height="6.1" fill="#e0483f"/>
<rect x="459" y="123.7" width="1" height="12.7" fill="#e0483f"/>
<rect x="458" y="128.8" width="3" height="7.1" fill="#e0483f"/>
<rect x="462" y="129.0" width="1" height="21.7" fill="#e0483f"/>
<rect x="461" y="129.4" width="3" height="20.8" fill="#e0483f"/>
<rect x="465" y="143.5" width="1" height="9.8" fill="#2d5ce2"/>
<rect x="464" y="144.0" width="3" height="6.2" fill="#2d5ce2"/>
<rect x="468" y="133.4" width="1" height="13.7" fill="#2d5ce2"/>
<rect x="467" y="133.9" width="3" height="10.1" fill="#2d5ce2"/>
<rect x="471" y="131.0" width="1" height="13.0" fill="#2d5ce2"/>
<rect x="470" y="131.5" width="3" height="6.9" fill="#2d5ce2"/>
<rect x="475" y="125.3" width="1" height="27.4" fill="#e0483f"/>
<rect x="474" y="126.8" width="3" height="25.4" fill="#e0483f"/>
<rect x="478" y="150.2" width="1" height="22.4" fill="#e0483f"/>
<rect x="477" y="153.3" width="3" height="4.0" fill="#e0483f"/>
<rect x="481" y="153.8" width="1" height="4.7" fill="#2d5ce2"/>
<rect x="480" y="154.3" width="3" height="3.7" fill="#2d5ce2"/>
<rect x="484" y="140.0" width="1" height="20.4" fill="#2d5ce2"/>
<rect x="483" y="145.7" width="3" height="10.6" fill="#2d5ce2"/>
<rect x="487" y="145.1" width="1" height="10.2" fill="#e0483f"/>
<rect x="486" y="148.2" width="3" height="2.0" fill="#e0483f"/>
<rect x="490" y="146.6" width="1" height="9.2" fill="#2d5ce2"/>
<rect x="489" y="147.1" width="3" height="8.2" fill="#2d5ce2"/>
<rect x="493" y="147.7" width="1" height="16.2" fill="#e0483f"/>
<rect x="492" y="148.2" width="3" height="15.2" fill="#e0483f"/>
<rect x="496" y="159.0" width="1" height="2.3" fill="#e0483f"/>
<rect x="495" y="159.4" width="3" height="1.4" fill="#e0483f"/>
<rect x="499" y="160.0" width="1" height="5.0" fill="#2d5ce2"/>
<rect x="498" y="160.4" width="3" height="4.1" fill="#2d5ce2"/>
<rect x="502" y="166.0" width="1" height="9.7" fill="#2d5ce2"/>
<rect x="501" y="166.5" width="3" height="4.1" fill="#2d5ce2"/>
<rect x="506" y="165.5" width="1" height="6.1" fill="#e0483f"/>
<rect x="505" y="166.0" width="3" height="2.5" fill="#e0483f"/>
<rect x="509" y="161.5" width="1" height="8.5" fill="#2d5ce2"/>
<rect x="508" y="162.0" width="3" height="7.6" fill="#2d5ce2"/>
<rect x="512" y="155.3" width="1" height="26.5" fill="#e0483f"/>
<rect x="511" y="157.3" width="3" height="10.2" fill="#e0483f"/>
<rect x="515" y="124.2" width="1" height="20.0" fill="#2d5ce2"/>
<rect x="514" y="124.7" width="3" height="19.0" fill="#2d5ce2"/>
<rect x="518" y="121.5" width="1" height="12.4" fill="#2d5ce2"/>
<rect x="517" y="122.0" width="3" height="6.2" fill="#2d5ce2"/>
<rect x="521" y="109.0" width="1" height="17.2" fill="#e0483f"/>
<rect x="520" y="115.6" width="3" height="10.1" fill="#e0483f"/>
<rect x="524" y="114.5" width="1" height="10.7" fill="#e0483f"/>
<rect x="523" y="122.7" width="3" height="2.0" fill="#e0483f"/>
<rect x="527" y="123.2" width="1" height="9.6" fill="#e0483f"/>
<rect x="526" y="123.7" width="3" height="8.6" fill="#e0483f"/>
<rect x="530" y="131.0" width="1" height="6.6" fill="#e0483f"/>
<rect x="529" y="131.5" width="3" height="2.0" fill="#e0483f"/>
<rect x="533" y="124.2" width="1" height="10.7" fill="#2d5ce2"/>
<rect x="532" y="124.7" width="3" height="7.6" fill="#2d5ce2"/>
<rect x="537" y="121.2" width="1" height="10.7" fill="#2d5ce2"/>
<rect x="536" y="121.7" width="3" height="6.1" fill="#2d5ce2"/>
<rect x="540" y="107.4" width="1" height="11.7" fill="#2d5ce2"/>
<rect x="539" y="115.6" width="3" height="3.0" fill="#2d5ce2"/>
<rect x="543" y="105.9" width="1" height="9.1" fill="#2d5ce2"/>
<rect x="542" y="106.4" width="3" height="8.1" fill="#2d5ce2"/>
<rect x="546" y="101.4" width="1" height="11.2" fill="#2d5ce2"/>
<rect x="545" y="105.5" width="3" height="4.5" fill="#2d5ce2"/>
<rect x="549" y="98.3" width="1" height="9.2" fill="#2d5ce2"/>
<rect x="548" y="101.8" width="3" height="3.5" fill="#2d5ce2"/>
<rect x="552" y="92.2" width="1" height="12.3" fill="#e0483f"/>
<rect x="551" y="98.6" width="3" height="3.3" fill="#e0483f"/>
<rect x="555" y="103.4" width="1" height="12.8" fill="#e0483f"/>
<rect x="554" y="109.0" width="3" height="3.0" fill="#e0483f"/>
<rect x="558" y="104.6" width="1" height="12.2" fill="#e0483f"/>
<rect x="557" y="107.5" width="3" height="8.0" fill="#e0483f"/>
<rect x="561" y="74.5" width="1" height="34.5" fill="#2d5ce2"/>
<rect x="560" y="75.0" width="3" height="33.6" fill="#2d5ce2"/>
<rect x="564" y="57.2" width="1" height="20.3" fill="#2d5ce2"/>
<rect x="563" y="57.7" width="3" height="19.3" fill="#2d5ce2"/>
<rect x="568" y="58.7" width="1" height="13.3" fill="#e0483f"/>
<rect x="567" y="62.8" width="3" height="6.1" fill="#e0483f"/>
<rect x="571" y="48.5" width="1" height="17.3" fill="#2d5ce2"/>
<rect x="570" y="50.6" width="3" height="9.1" fill="#2d5ce2"/>
<rect x="574" y="38.7" width="1" height="12.9" fill="#2d5ce2"/>
<rect x="573" y="42.8" width="3" height="5.7" fill="#2d5ce2"/>
<rect x="577" y="29.8" width="1" height="26.4" fill="#e0483f"/>
<rect x="576" y="31.8" width="3" height="23.9" fill="#e0483f"/>
<rect x="580" y="48.0" width="1" height="14.8" fill="#e0483f"/>
<rect x="579" y="48.5" width="3" height="5.1" fill="#e0483f"/>
<rect x="583" y="35.3" width="1" height="18.3" fill="#2d5ce2"/>
<rect x="582" y="37.9" width="3" height="12.7" fill="#2d5ce2"/>
<rect x="586" y="31.8" width="1" height="8.2" fill="#2d5ce2"/>
<rect x="585" y="33.2" width="3" height="6.2" fill="#2d5ce2"/>
<rect x="589" y="30.6" width="1" height="40.4" fill="#e0483f"/>
<rect x="588" y="36.3" width="3" height="32.6" fill="#e0483f"/>
<rect x="592" y="48.5" width="1" height="26.5" fill="#e0483f"/>
<rect x="591" y="53.6" width="3" height="15.3" fill="#e0483f"/>
<rect x="595" y="62.8" width="1" height="20.2" fill="#e0483f"/>
<rect x="594" y="74.0" width="3" height="6.0" fill="#e0483f"/>
<rect x="599" y="66.9" width="1" height="16.3" fill="#e0483f"/>
<rect x="598" y="71.0" width="3" height="11.0" fill="#e0483f"/>
<rect x="602" y="73.4" width="1" height="16.9" fill="#e0483f"/>
<rect x="601" y="78.0" width="3" height="11.3" fill="#e0483f"/>
<rect x="605" y="89.3" width="1" height="14.2" fill="#2d5ce2"/>
<rect x="604" y="91.3" width="3" height="6.1" fill="#2d5ce2"/>
<rect x="608" y="65.8" width="1" height="18.4" fill="#2d5ce2"/>
<rect x="607" y="77.0" width="3" height="6.2" fill="#2d5ce2"/>
<rect x="611" y="77.5" width="1" height="10.2" fill="#e0483f"/>
<rect x="610" y="78.0" width="3" height="9.2" fill="#e0483f"/>
<rect x="614" y="86.2" width="1" height="29.6" fill="#e0483f"/>
<rect x="613" y="88.3" width="3" height="11.2" fill="#e0483f"/>
<rect x="617" y="78.0" width="1" height="19.9" fill="#2d5ce2"/>
<rect x="616" y="81.1" width="3" height="16.3" fill="#2d5ce2"/>
<rect x="620" y="59.7" width="1" height="14.3" fill="#2d5ce2"/>
<rect x="619" y="67.3" width="3" height="4.7" fill="#2d5ce2"/>
<rect x="623" y="42.0" width="1" height="15.7" fill="#2d5ce2"/>
<rect x="622" y="50.6" width="3" height="3.0" fill="#2d5ce2"/>
<rect x="626" y="44.4" width="1" height="7.2" fill="#2d5ce2"/>
<rect x="625" y="50.2" width="3" height="1.0" fill="#2d5ce2"/>
<rect x="630" y="46.5" width="1" height="12.2" fill="#e0483f"/>
<rect x="629" y="49.5" width="3" height="4.1" fill="#e0483f"/>
<rect x="633" y="55.7" width="1" height="16.3" fill="#e0483f"/>
<rect x="632" y="59.7" width="3" height="10.2" fill="#e0483f"/>
<rect x="636" y="39.4" width="1" height="19.3" fill="#2d5ce2"/>
<rect x="635" y="48.1" width="3" height="9.6" fill="#2d5ce2"/>
<rect x="639" y="40.4" width="1" height="19.3" fill="#e0483f"/>
<rect x="638" y="42.4" width="3" height="6.1" fill="#e0483f"/>
<rect x="642" y="63.8" width="1" height="11.2" fill="#e0483f"/>
<rect x="641" y="66.5" width="3" height="7.5" fill="#e0483f"/>
<rect x="645" y="54.2" width="1" height="23.8" fill="#2d5ce2"/>
<rect x="644" y="59.7" width="3" height="8.2" fill="#2d5ce2"/>
<rect x="648" y="66.0" width="1" height="35.0" fill="#e0483f"/>
<rect x="647" y="66.5" width="3" height="34.0" fill="#e0483f"/>
<rect x="651" y="87.2" width="1" height="29.6" fill="#2d5ce2"/>
<rect x="650" y="90.3" width="3" height="18.3" fill="#2d5ce2"/>
<rect x="654" y="69.0" width="1" height="16.0" fill="#2d5ce2"/>
<rect x="653" y="77.0" width="3" height="2.0" fill="#2d5ce2"/>
<rect x="657" y="80.0" width="1" height="9.3" fill="#e0483f"/>
<rect x="656" y="81.8" width="3" height="6.6" fill="#e0483f"/>
<rect x="661" y="81.7" width="1" height="14.3" fill="#e0483f"/>
<rect x="660" y="83.5" width="3" height="2.0" fill="#e0483f"/>
<rect x="664" y="92.0" width="1" height="27.5" fill="#e0483f"/>
<rect x="663" y="92.5" width="3" height="22.5" fill="#e0483f"/>
<rect x="667" y="101.8" width="1" height="31.5" fill="#2d5ce2"/>
<rect x="666" y="112.0" width="3" height="19.3" fill="#2d5ce2"/>
<rect x="670" y="116.0" width="1" height="21.4" fill="#e0483f"/>
<rect x="669" y="118.0" width="3" height="12.3" fill="#e0483f"/>
<rect x="673" y="126.2" width="1" height="11.2" fill="#2d5ce2"/>
<rect x="672" y="132.3" width="3" height="2.1" fill="#2d5ce2"/>
<rect x="676" y="120.1" width="1" height="13.2" fill="#2d5ce2"/>
<rect x="675" y="123.2" width="3" height="8.1" fill="#2d5ce2"/>
<rect x="679" y="111.0" width="1" height="44.2" fill="#e0483f"/>
<rect x="678" y="114.0" width="3" height="40.7" fill="#e0483f"/>
<rect x="682" y="145.6" width="1" height="19.4" fill="#e0483f"/>
<rect x="681" y="150.7" width="3" height="3.0" fill="#e0483f"/>
<rect x="685" y="130.4" width="1" height="17.2" fill="#2d5ce2"/>
<rect x="684" y="130.9" width="3" height="14.7" fill="#2d5ce2"/>
<rect x="689" y="127.2" width="1" height="17.4" fill="#2d5ce2"/>
<rect x="688" y="129.3" width="3" height="11.2" fill="#2d5ce2"/>
<rect x="692" y="96.2" width="1" height="19.3" fill="#2d5ce2"/>
<rect x="691" y="96.7" width="3" height="18.3" fill="#2d5ce2"/>
<rect x="695" y="92.6" width="1" height="7.1" fill="#2d5ce2"/>
<rect x="694" y="95.7" width="3" height="2.0" fill="#2d5ce2"/>
<rect x="698" y="105.8" width="1" height="14.2" fill="#e0483f"/>
<rect x="697" y="108.0" width="3" height="2.0" fill="#e0483f"/>
<rect x="701" y="94.6" width="1" height="11.9" fill="#2d5ce2"/>
<rect x="700" y="102.8" width="3" height="3.0" fill="#2d5ce2"/>
<rect x="704" y="80.4" width="1" height="26.5" fill="#2d5ce2"/>
<rect x="703" y="82.4" width="3" height="21.4" fill="#2d5ce2"/>
<rect x="707" y="73.2" width="1" height="10.1" fill="#2d5ce2"/>
<rect x="706" y="74.3" width="3" height="8.5" fill="#2d5ce2"/>
<rect x="710" y="79.0" width="1" height="12.6" fill="#e0483f"/>
<rect x="709" y="79.4" width="3" height="8.1" fill="#e0483f"/>
<rect x="713" y="71.2" width="1" height="15.3" fill="#2d5ce2"/>
<rect x="712" y="75.3" width="3" height="7.1" fill="#2d5ce2"/>
<rect x="716" y="67.1" width="1" height="14.9" fill="#2d5ce2"/>
<rect x="715" y="77.3" width="3" height="3.1" fill="#2d5ce2"/>
<rect x="720" y="73.2" width="1" height="9.6" fill="#2d5ce2"/>
<rect x="719" y="77.3" width="3" height="1.0" fill="#2d5ce2"/>
<rect x="723" y="87.6" width="1" height="22.9" fill="#e0483f"/>
<rect x="722" y="88.1" width="3" height="21.9" fill="#e0483f"/>
<rect x="726" y="103.3" width="1" height="17.3" fill="#e0483f"/>
<rect x="725" y="103.8" width="3" height="16.3" fill="#e0483f"/>
<rect x="729" y="116.5" width="1" height="16.8" fill="#e0483f"/>
<rect x="728" y="117.0" width="3" height="14.3" fill="#e0483f"/>
<rect x="732" y="118.0" width="1" height="10.8" fill="#2d5ce2"/>
<rect x="731" y="120.1" width="3" height="8.2" fill="#2d5ce2"/>
<rect x="735" y="106.5" width="1" height="23.3" fill="#e0483f"/>
<rect x="734" y="116.0" width="3" height="13.3" fill="#e0483f"/>
<rect x="738" y="107.3" width="1" height="19.4" fill="#e0483f"/>
<rect x="737" y="113.4" width="3" height="12.8" fill="#e0483f"/>
<rect x="741" y="111.0" width="1" height="11.1" fill="#2d5ce2"/>
<rect x="740" y="114.6" width="3" height="6.1" fill="#2d5ce2"/>
<rect x="744" y="106.5" width="1" height="8.9" fill="#e0483f"/>
<rect x="743" y="108.9" width="3" height="4.1" fill="#e0483f"/>
<rect x="747" y="116.0" width="1" height="10.2" fill="#e0483f"/>
<rect x="746" y="117.5" width="3" height="1.0" fill="#e0483f"/>
<rect x="751" y="116.7" width="1" height="4.4" fill="#2d5ce2"/>
<rect x="750" y="117.2" width="3" height="1.0" fill="#2d5ce2"/>
<rect x="754" y="115.5" width="1" height="8.2" fill="#e0483f"/>
<rect x="753" y="116.0" width="3" height="7.2" fill="#e0483f"/>
<rect x="757" y="122.1" width="1" height="6.2" fill="#2d5ce2"/>
<rect x="756" y="124.2" width="3" height="2.6" fill="#2d5ce2"/>
<rect x="760" y="122.8" width="1" height="8.0" fill="#e0483f"/>
<rect x="759" y="124.8" width="3" height="5.5" fill="#e0483f"/>
<rect x="763" y="130.4" width="1" height="6.5" fill="#e0483f"/>
<rect x="762" y="130.9" width="3" height="5.5" fill="#e0483f"/>
<rect x="766" y="129.5" width="1" height="13.0" fill="#e0483f"/>
<rect x="765" y="130.0" width="3" height="1.0" fill="#e0483f"/>
<rect x="769" y="108.8" width="1" height="16.1" fill="#2d5ce2"/>
<rect x="768" y="109.3" width="3" height="15.1" fill="#2d5ce2"/>
<rect x="772" y="106.8" width="1" height="14.2" fill="#e0483f"/>
<rect x="771" y="107.3" width="3" height="6.9" fill="#e0483f"/>
<rect x="775" y="116.0" width="1" height="11.0" fill="#e0483f"/>
<rect x="774" y="116.5" width="3" height="10.0" fill="#e0483f"/>
<rect x="778" y="125.0" width="1" height="8.2" fill="#e0483f"/>
<rect x="777" y="127.8" width="3" height="1.0" fill="#e0483f"/>
<rect x="782" y="123.6" width="1" height="8.7" fill="#e0483f"/>
<rect x="781" y="125.7" width="3" height="6.1" fill="#e0483f"/>
<rect x="785" y="119.5" width="1" height="14.2" fill="#2d5ce2"/>
<rect x="784" y="125.0" width="3" height="8.2" fill="#2d5ce2"/>
<rect x="788" y="117.0" width="1" height="11.7" fill="#2d5ce2"/>
<rect x="787" y="117.5" width="3" height="8.2" fill="#2d5ce2"/>
<rect x="791" y="116.0" width="1" height="10.7" fill="#e0483f"/>
<rect x="790" y="116.5" width="3" height="2.0" fill="#e0483f"/>
<rect x="794" y="118.4" width="1" height="26.7" fill="#e0483f"/>
<rect x="793" y="118.9" width="3" height="25.7" fill="#e0483f"/>
<rect x="797" y="141.5" width="1" height="11.3" fill="#e0483f"/>
<rect x="796" y="142.0" width="3" height="7.0" fill="#e0483f"/>
<rect x="800" y="149.0" width="1" height="9.8" fill="#2d5ce2"/>
<rect x="799" y="156.2" width="3" height="2.1" fill="#2d5ce2"/>
<rect x="803" y="148.0" width="1" height="9.2" fill="#2d5ce2"/>
<rect x="802" y="154.8" width="3" height="1.0" fill="#2d5ce2"/>
<rect x="806" y="149.0" width="1" height="7.8" fill="#e0483f"/>
<rect x="805" y="151.1" width="3" height="4.1" fill="#e0483f"/>
<rect x="809" y="141.0" width="1" height="14.2" fill="#2d5ce2"/>
<rect x="808" y="151.8" width="3" height="1.0" fill="#2d5ce2"/>
<rect x="813" y="148.0" width="1" height="9.2" fill="#2d5ce2"/>
<rect x="812" y="152.1" width="3" height="3.1" fill="#2d5ce2"/>
<rect x="816" y="147.0" width="1" height="10.7" fill="#e0483f"/>
<rect x="815" y="149.0" width="3" height="8.2" fill="#e0483f"/>
<rect x="819" y="152.1" width="1" height="10.1" fill="#e0483f"/>
<rect x="818" y="154.8" width="3" height="6.9" fill="#e0483f"/>
<rect x="822" y="159.3" width="1" height="13.2" fill="#e0483f"/>
<rect x="821" y="161.3" width="3" height="7.1" fill="#e0483f"/>
<rect x="825" y="159.3" width="1" height="15.3" fill="#e0483f"/>
<rect x="824" y="162.3" width="3" height="10.2" fill="#e0483f"/>
<rect x="828" y="180.2" width="1" height="17.3" fill="#e0483f"/>
<rect x="827" y="180.7" width="3" height="16.3" fill="#e0483f"/>
<rect x="831" y="196.5" width="1" height="12.9" fill="#e0483f"/>
<rect x="830" y="197.0" width="3" height="7.8" fill="#e0483f"/>
<rect x="834" y="208.9" width="1" height="19.6" fill="#e0483f"/>
<rect x="833" y="209.4" width="3" height="12.4" fill="#e0483f"/>
<rect x="837" y="224.5" width="1" height="19.1" fill="#e0483f"/>
<rect x="836" y="228.8" width="3" height="13.2" fill="#e0483f"/>
<rect x="840" y="212.0" width="1" height="18.1" fill="#2d5ce2"/>
<rect x="839" y="216.4" width="3" height="13.2" fill="#2d5ce2"/>
<rect x="844" y="200.6" width="1" height="15.0" fill="#2d5ce2"/>
<rect x="843" y="205.5" width="3" height="5.5" fill="#2d5ce2"/>
<rect x="847" y="200.6" width="1" height="8.7" fill="#2d5ce2"/>
<rect x="846" y="208.2" width="3" height="1.0" fill="#2d5ce2"/>
<rect x="850" y="223.0" width="1" height="13.6" fill="#2d5ce2"/>
<rect x="849" y="227.5" width="3" height="1.0" fill="#2d5ce2"/>
<rect x="853" y="225.5" width="1" height="22.0" fill="#e0483f"/>
<rect x="852" y="226.0" width="3" height="20.7" fill="#e0483f"/>
<rect x="856" y="231.0" width="1" height="13.4" fill="#2d5ce2"/>
<rect x="855" y="234.3" width="3" height="9.3" fill="#2d5ce2"/>
<rect x="859" y="231.0" width="1" height="10.0" fill="#2d5ce2"/>
<rect x="858" y="235.8" width="3" height="1.6" fill="#2d5ce2"/>
<rect x="862" y="227.3" width="1" height="10.1" fill="#2d5ce2"/>
<rect x="861" y="235.0" width="3" height="1.6" fill="#2d5ce2"/>
</g>
<g id="wmhalo" filter="url(#bl)" opacity="0.85">
<text transform="translate(297.95,307) scale(0.579,1)" font-size="42.5" fill="#ffffff" stroke="#ffffff" stroke-width="3" stroke-linejoin="round">.</text>
<text transform="translate(303.59,307) scale(1.069,1)" font-size="42.5" fill="#ffffff" stroke="#ffffff" stroke-width="3" stroke-linejoin="round">c</text>
<text transform="translate(328.79,307) scale(1.047,1)" font-size="42.5" fill="#ffffff" stroke="#ffffff" stroke-width="3" stroke-linejoin="round">o</text>
<text transform="translate(355.75,307) scale(1.001,1)" font-size="42.5" fill="#ffffff" stroke="#ffffff" stroke-width="3" stroke-linejoin="round">m</text>
<text transform="translate(88.63,347.3) scale(0.788,1)" font-size="42" fill="#ffffff" stroke="#ffffff" stroke-width="3.5" stroke-linejoin="round">F</text>
<text transform="translate(136.35,347.3) scale(1.086,1)" font-size="42" fill="#ffffff" stroke="#ffffff" stroke-width="3.5" stroke-linejoin="round">N</text>
<text transform="translate(170.36,347.3) scale(0.820,1)" font-size="42" fill="#ffffff" stroke="#ffffff" stroke-width="3.5" stroke-linejoin="round">e</text>
<text transform="translate(193.21,347.3) scale(0.789,1)" font-size="42" fill="#ffffff" stroke="#ffffff" stroke-width="3.5" stroke-linejoin="round">w</text>
<text transform="translate(220.30,347.3) scale(0.661,1)" font-size="42" fill="#ffffff" stroke="#ffffff" stroke-width="3.5" stroke-linejoin="round">s</text>
<text transform="translate(237.30,347.3) scale(0.882,1)" font-size="42" fill="#ffffff" stroke="#ffffff" stroke-width="3.5" stroke-linejoin="round">T</text>
<text transform="translate(261.06,347.3) scale(0.854,1)" font-size="42" fill="#ffffff" stroke="#ffffff" stroke-width="3.5" stroke-linejoin="round">o</text>
<text transform="translate(283.26,347.3) scale(0.811,1)" font-size="42" fill="#ffffff" stroke="#ffffff" stroke-width="3.5" stroke-linejoin="round">d</text>
<text transform="translate(304.75,347.3) scale(0.695,1)" font-size="42" fill="#ffffff" stroke="#ffffff" stroke-width="3.5" stroke-linejoin="round">a</text>
<text transform="translate(325.59,347.3) scale(0.849,1)" font-size="42" fill="#ffffff" stroke="#ffffff" stroke-width="3.5" stroke-linejoin="round">y</text>
</g>
<g id="wmgray" filter="url(#bl)">
<text transform="translate(296.92,307) scale(0.753,1)" font-size="42.5" fill="#d9d9d9">.</text>
<text transform="translate(302.28,307) scale(1.187,1)" font-size="42.5" fill="#d9d9d9">c</text>
<text transform="translate(327.54,307) scale(1.152,1)" font-size="42.5" fill="#d9d9d9">o</text>
<text transform="translate(354.58,307) scale(1.067,1)" font-size="42.5" fill="#d9d9d9">m</text>
<text transform="translate(88.33,347.3) scale(0.810,1)" font-size="42" fill="#d9d9d9" stroke="#d9d9d9" stroke-width="1.6" stroke-linejoin="round">F</text>
<text transform="translate(135.71,347.3) scale(1.128,1)" font-size="42" fill="#d9d9d9" stroke="#d9d9d9" stroke-width="1.6" stroke-linejoin="round">N</text>
<text transform="translate(170.06,347.3) scale(0.846,1)" font-size="42" fill="#d9d9d9" stroke="#d9d9d9" stroke-width="1.6" stroke-linejoin="round">e</text>
<text transform="translate(192.98,347.3) scale(0.805,1)" font-size="42" fill="#d9d9d9" stroke="#d9d9d9" stroke-width="1.6" stroke-linejoin="round">w</text>
<text transform="translate(220.17,347.3) scale(0.673,1)" font-size="42" fill="#d9d9d9" stroke="#d9d9d9" stroke-width="1.6" stroke-linejoin="round">s</text>
<text transform="translate(236.96,347.3) scale(0.908,1)" font-size="42" fill="#d9d9d9" stroke="#d9d9d9" stroke-width="1.6" stroke-linejoin="round">T</text>
<text transform="translate(260.72,347.3) scale(0.882,1)" font-size="42" fill="#d9d9d9" stroke="#d9d9d9" stroke-width="1.6" stroke-linejoin="round">o</text>
<text transform="translate(282.96,347.3) scale(0.837,1)" font-size="42" fill="#d9d9d9" stroke="#d9d9d9" stroke-width="1.6" stroke-linejoin="round">d</text>
<text transform="translate(304.58,347.3) scale(0.708,1)" font-size="42" fill="#d9d9d9" stroke="#d9d9d9" stroke-width="1.6" stroke-linejoin="round">a</text>
<text transform="translate(325.30,347.3) scale(0.876,1)" font-size="42" fill="#d9d9d9" stroke="#d9d9d9" stroke-width="1.6" stroke-linejoin="round">y</text>
<path d="M111.5 325.8 L122 335.3" stroke="#ece2d0" stroke-width="3" stroke-linecap="round" fill="none"/>
<path d="M122 335.3 L133.5 345.2" stroke="#d9ebdc" stroke-width="3" stroke-linecap="round" fill="none"/>
<path d="M113.5 345 L121.5 335.5" stroke="#e2e8de" stroke-width="3" stroke-linecap="round" fill="none"/>
<path d="M121.5 335.5 L128.7 326" stroke="#f6e0d8" stroke-width="3" stroke-linecap="round" fill="none"/>
</g>
<g id="wmorange">
<g filter="url(#bl)" opacity="0.6">
<text transform="translate(49.40,307) scale(1.064,1)" font-size="46.5" fill="#ffffff" stroke="#ffffff" stroke-width="2.4" stroke-linejoin="round">e</text>
<text transform="translate(77.57,307) scale(0.958,1)" font-size="46.5" fill="#ffffff" stroke="#ffffff" stroke-width="2.4" stroke-linejoin="round">c</text>
<text transform="translate(104.06,307) scale(0.975,1)" font-size="46.5" fill="#ffffff" stroke="#ffffff" stroke-width="2.4" stroke-linejoin="round">o</text>
<text transform="translate(133.29,307) scale(1.137,1)" font-size="46.5" fill="#ffffff" stroke="#ffffff" stroke-width="2.4" stroke-linejoin="round">n</text>
<text transform="translate(162.43,307) scale(1.015,1)" font-size="46.5" fill="#ffffff" stroke="#ffffff" stroke-width="2.4" stroke-linejoin="round">o</text>
<text transform="translate(190.38,307) scale(1.084,1)" font-size="46.5" fill="#ffffff" stroke="#ffffff" stroke-width="2.4" stroke-linejoin="round">m</text>
<text transform="translate(230.96,307) scale(0.908,1)" font-size="46.5" fill="#ffffff" stroke="#ffffff" stroke-width="2.4" stroke-linejoin="round">i</text>
<text transform="translate(239.98,307) scale(1.084,1)" font-size="46.5" fill="#ffffff" stroke="#ffffff" stroke-width="2.4" stroke-linejoin="round">e</text>
<text transform="translate(269.09,307) scale(1.068,1)" font-size="46.5" fill="#ffffff" stroke="#ffffff" stroke-width="2.4" stroke-linejoin="round">s</text>
</g>
<g filter="url(#bl)">
<text transform="translate(49.48,307) scale(1.058,1)" font-size="46.5" fill="#fad5be" stroke="#fad5be" stroke-width="1.6" stroke-linejoin="round">e</text>
<text transform="translate(77.70,307) scale(0.947,1)" font-size="46.5" fill="#fad5be" stroke="#fad5be" stroke-width="1.6" stroke-linejoin="round">c</text>
<text transform="translate(104.18,307) scale(0.966,1)" font-size="46.5" fill="#fad5be" stroke="#fad5be" stroke-width="1.6" stroke-linejoin="round">o</text>
<text transform="translate(133.34,307) scale(1.133,1)" font-size="46.5" fill="#fad5be" stroke="#fad5be" stroke-width="1.6" stroke-linejoin="round">n</text>
<text transform="translate(162.53,307) scale(1.008,1)" font-size="46.5" fill="#fad5be" stroke="#fad5be" stroke-width="1.6" stroke-linejoin="round">o</text>
<text transform="translate(190.45,307) scale(1.080,1)" font-size="46.5" fill="#fad5be" stroke="#fad5be" stroke-width="1.6" stroke-linejoin="round">m</text>
<text transform="translate(231.18,307) scale(0.864,1)" font-size="46.5" fill="#fad5be" stroke="#fad5be" stroke-width="1.6" stroke-linejoin="round">i</text>
<text transform="translate(240.06,307) scale(1.079,1)" font-size="46.5" fill="#fad5be" stroke="#fad5be" stroke-width="1.6" stroke-linejoin="round">e</text>
<text transform="translate(269.16,307) scale(1.061,1)" font-size="46.5" fill="#fad5be" stroke="#fad5be" stroke-width="1.6" stroke-linejoin="round">s</text>
</g>
</g>
<polyline points="0.0,448.8 3.4,442.4 7.6,445.4 11.0,448.0 15.3,442.9 20.4,425.0 25.5,412.3 28.9,409.8 34.8,410.1 39.0,421.7 44.5,434.4 48.4,431.0 52.6,428.8 56.0,433.6 62.0,438.3 67.9,433.6 71.3,436.1 76.4,445.4 81.5,437.0 84.9,431.9 87.4,434.4 89.1,445.4 90.0,449.7 94.0,468.0 104.0,475.0 124.0,474.0 137.0,468.0 143.5,449.7 147.7,435.3 152.8,420.8 157.0,412.8 160.4,410.1 164.7,413.2 169.8,423.4 174.9,432.7 180.8,442.9 185.9,459.0 189.3,469.2 191.9,471.8 194.4,468.4 196.8,457.3 201.9,436.1 207.0,421.7 210.4,416.2 213.8,418.3 219.7,427.6 223.1,425.9 227.4,416.6 232.4,411.1 237.5,411.1 241.8,415.7 246.9,425.1 251.1,428.1 255.4,424.2 260.5,414.9 265.6,410.1 269.8,412.3 274.9,418.3 279.1,420.8 285.1,416.9 289.3,419.1 294.4,426.8 299.5,437.8 302.9,450.5 306.3,457.7 309.7,450.5 313.9,428.5 318.2,414.0 320.7,412.3 325.8,420.0 330.9,436.1 337.7,450.5 343.7,457.0 349.6,457.3 355.5,454.8 359.8,443.7 364.9,433.6 370.0,425.1 373.4,420.8 376.8,424.2 380.0,434.4 383.4,448.8 387.6,457.3 392.7,450.5 397.0,445.1 402.1,438.7 408.0,429.8 411.4,437.0 414.8,455.6 419.0,469.2 421.6,471.8 426.7,465.8 430.9,465.0 436.0,469.2 439.4,470.9 445.4,464.1 450.5,452.2 455.6,431.9 459.5,420.0 462.3,425.1 466.6,437.0 471.7,441.2 475.9,445.4 480.2,460.7 483.6,468.4 487.8,466.7 491.2,464.1 496.3,466.7 502.2,471.8 506.5,472.9 512.4,470.9 515.8,455.6 520.1,431.9 524.0,416.2 527.7,415.7 532.0,421.7 535.3,423.4 540.4,418.3 545.5,412.3 550.6,409.8 554.0,413.2 558.3,428.5 562.5,439.5 566.8,431.9 571.9,421.7 573.4,420.0 577.6,424.2 582.7,431.0 587.0,431.9 591.2,443.7 595.5,462.4 599.7,471.8 604.8,475.2 609.9,472.6 615.0,469.6 619.2,466.7 623.5,454.8 628.6,442.0 633.7,433.6 637.9,428.8 642.2,429.3 645.6,437.0 648.9,448.8 652.3,458.2 655.7,461.6 660.0,460.7 664.2,462.1 668.5,468.4 673.6,472.9 678.7,472.3 683.8,469.2 688.0,459.0 692.2,440.4 696.5,423.4 699.9,417.4 704.1,415.7 708.4,414.0 713.5,414.9 718.6,415.2 722.8,418.3 726.2,428.5 729.6,448.8 733.0,464.1 736.0,468.4 740.6,465.0 744.9,457.3 749.1,452.6 753.4,452.6 758.5,457.3 760.0,459.7 764.7,466.7 767.8,462.0 771.7,445.0 775.5,431.7 778.3,430.7 781.8,438.0 786.1,445.3 789.5,441.1 792.9,434.1 796.0,439.5 798.8,454.3 802.0,468.3 805.1,474.2 809.7,472.6 815.2,469.5 819.8,471.4 825.3,474.8 836.9,475.3 840.8,468.3 844.7,449.6 848.3,432.5 851.7,424.8 854.8,427.9 857.6,429.7 860.2,428.2 862.5,426.3" fill="none" stroke="#f57c1f" stroke-width="1.1" stroke-linejoin="round"/>
<polyline points="0.0,442.4 2.0,441.2 5.1,445.4 9.3,448.8 13.6,443.7 17.0,423.4 19.5,413.2 22.9,409.8 34.0,409.8 36.5,418.3 39.9,430.2 42.8,437.8 45.8,430.2 49.2,427.1 52.6,430.2 56.9,436.1 59.4,435.3 62.0,437.8 65.4,432.7 67.9,431.0 70.5,438.7 73.9,448.5 77.2,442.0 79.8,424.2 83.2,427.6 84.9,432.7 86.6,447.1 87.4,449.7 91.0,470.0 100.0,476.0 120.0,474.0 133.0,470.0 139.2,449.7 144.3,435.3 148.6,421.7 153.7,412.3 158.7,409.8 163.0,412.3 167.2,421.7 170.6,431.0 174.9,437.0 180.0,443.7 184.2,460.7 187.6,470.9 190.2,473.5 192.7,470.9 195.9,453.9 201.0,425.1 204.4,420.0 207.8,413.2 211.2,418.3 217.2,430.2 221.4,425.1 225.7,414.0 229.0,410.1 235.8,411.1 239.2,414.0 243.5,424.2 247.7,431.0 253.7,424.2 257.9,414.9 262.2,410.1 266.4,410.1 271.5,416.6 276.6,423.0 281.7,416.2 287.6,417.9 291.0,425.9 294.4,429.3 298.7,442.0 303.8,461.6 307.1,452.2 311.4,428.5 315.6,410.6 319.0,410.6 323.3,421.7 329.2,440.4 336.0,453.1 341.1,460.7 343.7,454.8 349.6,458.2 356.4,453.1 359.8,437.8 362.3,436.1 365.7,426.8 368.3,424.2 372.0,415.2 375.1,425.1 378.5,437.0 381.0,452.0 384.2,459.0 389.3,453.9 394.4,443.7 397.8,443.4 402.1,436.1 405.8,423.0 408.9,431.9 411.4,450.5 414.8,470.1 418.7,474.3 424.5,465.0 429.2,465.0 434.3,470.9 438.6,470.1 443.7,462.4 448.8,448.8 453.0,428.5 455.6,416.6 458.4,415.2 460.6,425.1 464.0,437.0 468.3,445.8 470.8,437.8 474.2,447.1 477.6,461.6 481.0,472.9 485.3,465.8 490.0,462.1 493.8,467.5 498.8,471.8 505.6,472.6 511.6,470.9 514.1,459.0 517.5,431.9 520.9,411.8 524.3,414.0 528.6,420.0 532.8,425.1 537.9,419.1 543.0,412.3 547.2,409.8 551.5,410.1 554.9,421.7 558.3,444.6 560.8,444.6 563.4,431.9 566.8,418.3 571.9,420.8 574.2,423.4 579.3,430.2 582.7,434.4 585.6,428.5 588.7,440.4 592.1,459.0 594.6,472.6 599.7,474.3 604.0,475.2 608.2,470.9 612.4,469.2 617.5,467.5 620.9,457.3 624.3,445.4 628.6,432.7 632.0,433.6 636.2,427.1 639.6,427.6 643.0,433.6 645.6,445.4 648.1,456.5 651.5,460.7 654.0,463.3 657.4,458.2 660.8,457.3 664.2,465.0 668.5,472.6 671.9,474.6 677.0,471.8 682.1,470.1 686.3,460.7 689.7,443.7 693.1,425.1 696.5,415.7 699.0,414.0 702.4,416.6 707.2,412.3 711.8,414.5 716.0,415.2 719.4,414.9 722.8,421.7 725.3,435.3 727.9,453.9 730.4,465.8 734.3,469.2 739.8,463.3 744.0,454.8 747.4,451.4 751.7,452.2 756.8,458.2 760.0,464.4 763.1,469.0 766.2,465.2 768.5,448.1 771.7,427.9 774.8,425.1 777.9,437.2 781.4,450.4 784.9,448.1 788.0,437.2 790.8,427.5 793.4,437.2 796.5,457.4 800.1,474.8 804.3,474.5 808.9,471.4 813.6,468.6 818.3,471.4 822.9,475.3 836.9,475.3 839.2,465.2 843.1,441.8 847.0,421.6 849.3,421.6 851.7,426.3 854.0,431.0 856.3,430.7 859.4,426.3 862.2,420.1" fill="none" stroke="#3a6cf0" stroke-width="1.1" stroke-linejoin="round"/>
<rect x="0" y="449.7" width="174.8" height="34" fill="#ffffff"/>
<path d="M589.4 30.6 L1104.4 177.8" stroke="#1a1a1a" stroke-width="1.3" fill="none"/>
<text x="1130.6" y="70.8" font-size="12" fill="#131722" textLength="35" lengthAdjust="spacingAndGlyphs">140.00</text>
<text x="1130.6" y="123.2" font-size="12" fill="#131722" textLength="35" lengthAdjust="spacingAndGlyphs">120.00</text>
<text x="1130.6" y="174.9" font-size="12" fill="#131722" textLength="35" lengthAdjust="spacingAndGlyphs">100.00</text>
<text x="1130.6" y="227.0" font-size="12" fill="#131722" textLength="29.2" lengthAdjust="spacingAndGlyphs">80.00</text>
<text x="1130.6" y="280.0" font-size="12" fill="#131722" textLength="29.2" lengthAdjust="spacingAndGlyphs">60.00</text>
<text x="1130.6" y="331.8" font-size="12" fill="#131722" textLength="29.2" lengthAdjust="spacingAndGlyphs">40.00</text>
<text x="1130.6" y="383.9" font-size="12" fill="#131722" textLength="29.2" lengthAdjust="spacingAndGlyphs">20.00</text>
<text x="1130.6" y="415.1" font-size="12" fill="#131722" textLength="35" lengthAdjust="spacingAndGlyphs">100.00</text>
<text x="1130.6" y="447.1" font-size="12" fill="#131722" textLength="29.2" lengthAdjust="spacingAndGlyphs">50.00</text>
<text x="1130.6" y="479.7" font-size="12" fill="#131722" textLength="23.4" lengthAdjust="spacingAndGlyphs">0.00</text>
<rect x="1122" y="191.7" width="43.5" height="16.6" rx="2" ry="2" fill="#f23645"/>
<text x="1130" y="204.3" font-size="12" font-weight="bold" fill="#ffffff" textLength="30.5" lengthAdjust="spacingAndGlyphs">88.60</text>
<rect x="1122" y="227.2" width="43.5" height="16.6" rx="2" ry="2" fill="#2962ff"/>
<text x="1130" y="239.8" font-size="12" font-weight="bold" fill="#ffffff" textLength="30.5" lengthAdjust="spacingAndGlyphs">75.21</text>
<rect x="1122" y="249.3" width="43.5" height="16.6" rx="2" ry="2" fill="#4caf50"/>
<text x="1130" y="261.9" font-size="12" font-weight="bold" fill="#ffffff" textLength="30.5" lengthAdjust="spacingAndGlyphs">66.91</text>
<rect x="1125.8" y="7.2" width="44.4" height="25" rx="4" ry="4" fill="#ffffff" stroke="#eceef2" stroke-width="1"/>
<text x="1129.8" y="24.0" font-size="12" fill="#131722" textLength="19.6" lengthAdjust="spacingAndGlyphs">USD</text>
<path d="M1161.4 19 L1163.8 21.4 L1166.2 19" stroke="#131722" stroke-width="1.2" fill="none" stroke-linecap="round" stroke-linejoin="round"/>
<text x="42.5" y="500.8" font-size="12" textLength="20.3" lengthAdjust="spacingAndGlyphs" fill="#131722">Feb</text>
<text x="101.8" y="500.8" font-size="12" textLength="19.4" lengthAdjust="spacingAndGlyphs" fill="#131722">Mar</text>
<text x="167.4" y="500.8" font-size="12" textLength="18.6" lengthAdjust="spacingAndGlyphs" fill="#131722">Apr</text>
<text x="231.6" y="500.8" font-size="12" textLength="20.4" lengthAdjust="spacingAndGlyphs" fill="#131722">May</text>
<text x="297.9" y="500.8" font-size="12" textLength="18.5" lengthAdjust="spacingAndGlyphs" fill="#131722">Jun</text>
<text x="361.7" y="500.8" font-size="12" textLength="15.3" lengthAdjust="spacingAndGlyphs" fill="#131722">Jul</text>
<text x="427.8" y="500.8" font-size="12" textLength="19.7" lengthAdjust="spacingAndGlyphs" fill="#131722">Aug</text>
<text x="492.8" y="500.8" font-size="12" textLength="19.3" lengthAdjust="spacingAndGlyphs" fill="#131722">Sep</text>
<text x="557.9" y="500.8" font-size="12" textLength="18.7" lengthAdjust="spacingAndGlyphs" fill="#131722">Oct</text>
<text x="629.1" y="500.8" font-size="12" textLength="19.7" lengthAdjust="spacingAndGlyphs" fill="#131722">Nov</text>
<text x="687.9" y="500.8" font-size="12" textLength="19.4" lengthAdjust="spacingAndGlyphs" fill="#131722">Dec</text>
<text x="817.9" y="500.8" font-size="12" textLength="20.3" lengthAdjust="spacingAndGlyphs" fill="#131722">Feb</text>
<text x="877.3" y="500.8" font-size="12" textLength="19.4" lengthAdjust="spacingAndGlyphs" fill="#131722">Mar</text>
<text x="946.1" y="500.8" font-size="12" textLength="18.6" lengthAdjust="spacingAndGlyphs" fill="#131722">Apr</text>
<text x="1009.9" y="500.8" font-size="12" textLength="20.4" lengthAdjust="spacingAndGlyphs" fill="#131722">May</text>
<text x="1073.0" y="500.8" font-size="12" textLength="18.5" lengthAdjust="spacingAndGlyphs" fill="#131722">Jun</text>
<text x="753.1" y="500.8" font-size="12" font-weight="bold" textLength="26.6" lengthAdjust="spacingAndGlyphs" fill="#131722">2026</text>
<path d="M1141.2 497.4 L1144.7 491.29999999999995 L1152.1000000000001 491.29999999999995 L1155.6000000000001 497.4 L1152.1000000000001 503.5 L1144.7 503.5 Z" fill="none" stroke="#131722" stroke-width="1.2" stroke-linejoin="round"/>
<circle cx="1148.4" cy="497.4" r="2.3" fill="none" stroke="#131722" stroke-width="1.2"/>
</svg></body></html>
